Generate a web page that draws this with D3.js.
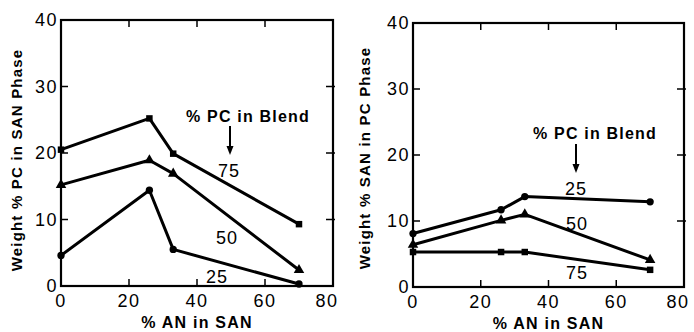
<!DOCTYPE html>
<html><head><meta charset="utf-8">
<script src="https://cdn.jsdelivr.net/npm/d3@7"></script>
<style>
body{margin:0;background:#fff;}
text{font-family:"Liberation Sans",Arial,sans-serif;fill:#000;}
</style></head>
<body>
<svg id="chart" width="694" height="332"></svg>
<script>
// ---- data ----
const anInSAN = [0, 26, 33, 70];
// Left panel: Weight % PC in SAN phase
const leftPC75 = [20.5, 25.2, 19.9, 9.3];
const leftPC50 = [15.2, 18.9, 16.9, 2.4];
const leftPC25 = [4.6, 14.4, 5.5, 0.3];
// Right panel: Weight % SAN in PC phase
const rightPC25 = [8.1, 11.7, 13.7, 12.9];
const rightPC50 = [6.4, 10.1, 11.0, 4.1];
const rightPC75 = [5.3, 5.3, 5.3, 2.6];
const xTicks = [0, 20, 40, 60, 80];
const yTicks = [0, 10, 20, 30, 40];

const svg = d3.select("#chart");

function panel(cfg){
  const x = d3.scaleLinear().domain([0,80]).range([cfg.x0, cfg.x1]);
  const y = d3.scaleLinear().domain([0,40]).range([cfg.y1, cfg.y0]);
  const g = svg.append("g");
  const tl = 7;
  const innerX = xTicks.slice(1,-1), innerY = yTicks.slice(1,-1);
  innerX.forEach(t=>{
    g.append("line").attr("x1",x(t)).attr("x2",x(t)).attr("y1",cfg.y1).attr("y2",cfg.y1-tl).attr("stroke","#000").attr("stroke-width",1.5);
    g.append("line").attr("x1",x(t)).attr("x2",x(t)).attr("y1",cfg.y0).attr("y2",cfg.y0+tl).attr("stroke","#000").attr("stroke-width",1.5);
  });
  innerY.forEach(t=>{
    g.append("line").attr("x1",cfg.x0).attr("x2",cfg.x0+tl).attr("y1",y(t)).attr("y2",y(t)).attr("stroke","#000").attr("stroke-width",1.5);
    g.append("line").attr("x1",cfg.x1-tl).attr("x2",cfg.x1+2).attr("y1",y(t)).attr("y2",y(t)).attr("stroke","#000").attr("stroke-width",1.5);
  });
  g.append("rect").attr("x",cfg.x0).attr("y",cfg.y0).attr("width",cfg.x1-cfg.x0).attr("height",cfg.y1-cfg.y0)
    .attr("fill","none").attr("stroke","#000").attr("stroke-width",2.2);
  g.selectAll(".xl").data(xTicks).enter().append("text")
    .attr("x",(d,i)=>x(d) + (i===xTicks.length-1 ? -6 : 0)).attr("y",cfg.y1+21).attr("text-anchor","middle")
    .style("font-size","18px").style("letter-spacing","1.5px").text(d=>d);
  g.selectAll(".yl").data(yTicks).enter().append("text")
    .attr("x",cfg.x0-3).attr("y",d=>y(d)+6).attr("text-anchor","end")
    .style("font-size","18px").style("letter-spacing","1.5px").text(d=>d);
  g.append("text").attr("x",(cfg.x0+cfg.x1)/2).attr("y",cfg.y1+42).attr("text-anchor","middle")
    .style("font-size","16px").style("font-weight","bold").style("letter-spacing","1.2px").text("% AN in SAN");
  g.append("text").attr("transform",`translate(${cfg.ytx},${cfg.yty}) rotate(-90)`).attr("text-anchor","middle")
    .style("font-size","15px").style("font-weight","bold").style("letter-spacing","1.2px").text(cfg.ytitle);
  const line = d3.line().x((d,i)=>x(anInSAN[i])).y(d=>y(d));
  cfg.series.forEach(s=>{
    g.append("path").datum(s.values).attr("d",line).attr("fill","none").attr("stroke","#000")
      .attr("stroke-width",3).attr("stroke-linejoin","round");
    const sym = d3.symbol().type(s.shape).size(s.shape===d3.symbolTriangle?48:42);
    g.selectAll(null).data(s.values).enter().append("path")
      .attr("transform",(d,i)=>`translate(${x(anInSAN[i])},${y(d)})`).attr("d",sym).attr("fill","#000");
    g.append("text").attr("x",s.lx).attr("y",s.ly).attr("text-anchor","middle")
      .style("font-size","18px").style("letter-spacing","1px").text(s.label);
  });
  g.append("text").attr("x",cfg.legX).attr("y",cfg.legY).attr("text-anchor","middle")
    .style("font-size","16px").style("font-weight","bold").style("letter-spacing","1.2px").text("% PC in Blend");
  g.append("line").attr("x1",cfg.arrX).attr("x2",cfg.arrX).attr("y1",cfg.arrY0).attr("y2",cfg.arrY1-6).attr("stroke","#000").attr("stroke-width",2);
  g.append("path").attr("d",`M${cfg.arrX-3.5},${cfg.arrY1-9}L${cfg.arrX+3.5},${cfg.arrY1-9}L${cfg.arrX},${cfg.arrY1}Z`).attr("fill","#000");
}

panel({x0:61,x1:333,y0:20,y1:286,ytx:22,yty:160,ytitle:"Weight % PC in SAN Phase",
  legX:248,legY:122,arrX:230,arrY0:126,arrY1:155,
  series:[
    {values:leftPC75,shape:d3.symbolSquare,label:"75",lx:229,ly:177},
    {values:leftPC50,shape:d3.symbolTriangle,label:"50",lx:227,ly:244},
    {values:leftPC25,shape:d3.symbolCircle,label:"25",lx:217,ly:283}
  ]});
panel({x0:413,x1:684,y0:23,y1:287,ytx:370,yty:158,ytitle:"Weight % SAN in PC Phase",
  legX:595,legY:139,arrX:576,arrY0:144,arrY1:173,
  series:[
    {values:rightPC25,shape:d3.symbolCircle,label:"25",lx:576,ly:195},
    {values:rightPC50,shape:d3.symbolTriangle,label:"50",lx:577,ly:230},
    {values:rightPC75,shape:d3.symbolSquare,label:"75",lx:577,ly:279}
  ]});
</script>
</body></html>
